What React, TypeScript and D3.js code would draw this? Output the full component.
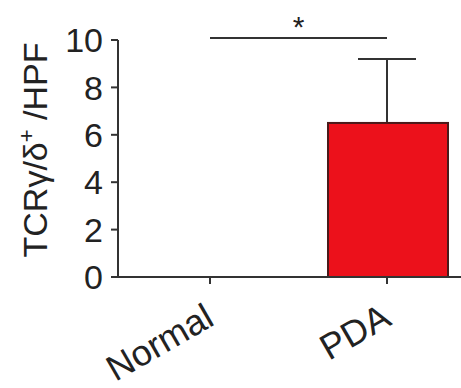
import React from "react";
import * as d3 from "d3";

const categories = ["Normal", "PDA"];
const means = [0, 6.5];
const errors = [0, 2.7];
const yTicks = [0, 2, 4, 6, 8, 10];
const sigLabel = "*";

const W = 461;
const H = 388;
const m = { left: 118, top: 40, right: 0, bottom: 111 };

export default function App() {
  const y = d3.scaleLinear().domain([0, 10]).range([277, 40]);
  const x = d3.scalePoint<string>().domain(categories).range([210, 387]);
  const barW = 120;
  const ink = "#333";
  return (
    <svg width={W} height={H} style={{ position: "absolute", left: 0, top: 0, background: "#fff" }}
      fontFamily="Liberation Sans, Arial, sans-serif">
      {/* y label */}
      <text transform={`translate(47,150) rotate(-90)`} textAnchor="middle" fontSize={34} fill="#222">
        TCRγ/δ<tspan dy={-13} fontSize={22}>+</tspan><tspan dy={13}> /HPF</tspan>
      </text>
      {/* y axis */}
      <line x1={m.left} x2={m.left} y1={y(10)} y2={y(0)} stroke={ink} strokeWidth={2} />
      {yTicks.map((t) => (
        <g key={t}>
          <line x1={m.left - 7} x2={m.left} y1={y(t)} y2={y(t)} stroke={ink} strokeWidth={2} />
          <text x={m.left - 15} y={y(t)} dy="0.36em" textAnchor="end" fontSize={34} fill="#222">{t}</text>
        </g>
      ))}
      {/* bars */}
      {categories.map((c, i) => (
        <g key={c}>
          {means[i] > 0 && (
            <>
              <line x1={x(c)!} x2={x(c)!} y1={y(means[i])} y2={y(means[i] + errors[i])} stroke={ink} strokeWidth={2} />
              <line x1={x(c)! - 29} x2={x(c)! + 29} y1={y(means[i] + errors[i])} y2={y(means[i] + errors[i])} stroke={ink} strokeWidth={2} />
              <rect x={x(c)! - 59} y={y(means[i])} width={barW} height={y(0) - y(means[i])} fill="#ec111b" stroke="#4a1a1a" strokeWidth={2} />
            </>
          )}
        </g>
      ))}
      {/* x axis */}
      <line x1={m.left} x2={W} y1={y(0)} y2={y(0)} stroke={ink} strokeWidth={2} />
      {categories.map((c) => (
        <g key={c}>
          <line x1={x(c)!} x2={x(c)!} y1={y(0)} y2={y(0) + 7} stroke={ink} strokeWidth={2} />
          <text transform={`translate(${x(c)! + 6},${y(0) + 47}) rotate(-30)`} textAnchor="end" fontSize={36} fill="#222">{c}</text>
        </g>
      ))}
      {/* significance */}
      <line x1={x(categories[0])!} x2={x(categories[1])!} y1={38} y2={38} stroke={ink} strokeWidth={2} />
      <text x={(x(categories[0])! + x(categories[1])!) / 2} y={38} dy={-1} textAnchor="middle" fontSize={30} fill="#222">{sigLabel}</text>
    </svg>
  );
}
